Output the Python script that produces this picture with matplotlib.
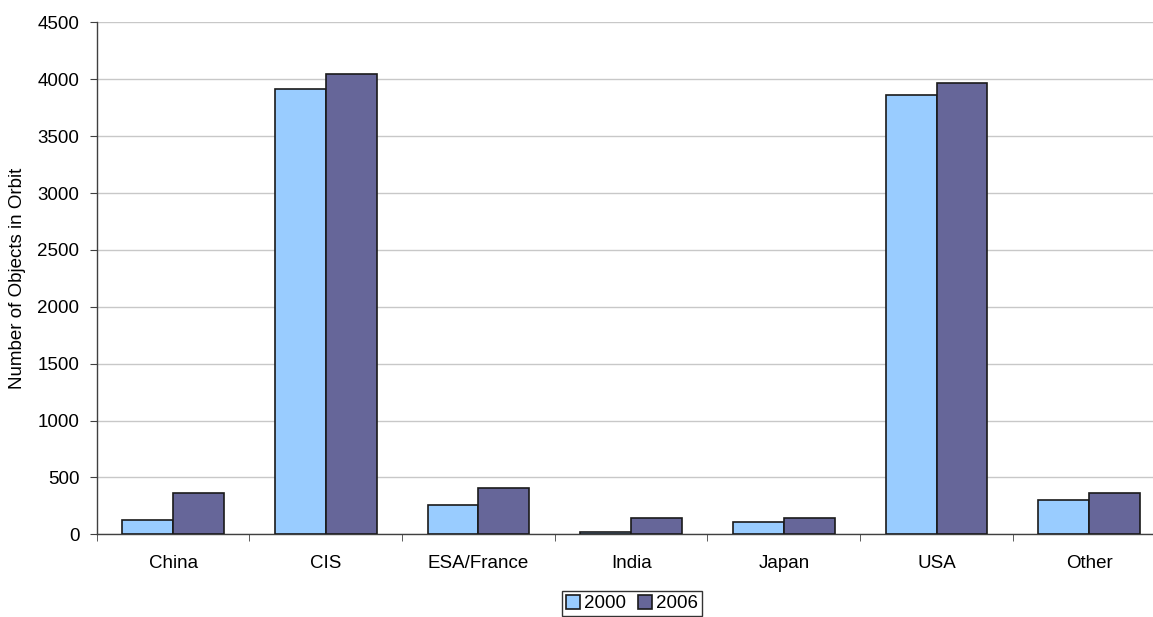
import matplotlib.pyplot as plt
import numpy as np

plt.rcParams['font.family'] = ['Liberation Sans', 'DejaVu Sans']

countries = ['China', 'CIS', 'ESA/France', 'India', 'Japan', 'USA', 'Other']
objects_2000 = [126, 3915, 258, 23, 111, 3862, 305]
objects_2006 = [360, 4045, 410, 141, 143, 3970, 366]

fig = plt.figure(figsize=(11.53, 6.17), dpi=100)
ax = fig.add_axes([0.0839, 0.134, 1.0109 - 0.0839, 0.9637 - 0.134])

x = np.arange(len(countries))
w = 1 / 3
ax.bar(x - w / 2, objects_2000, w, color='#99CCFF', edgecolor='#1a1a1a', linewidth=1.2, label='2000', zorder=3)
ax.bar(x + w / 2, objects_2006, w, color='#666699', edgecolor='#1a1a1a', linewidth=1.2, label='2006', zorder=3)

ax.set_xlim(-0.5, len(countries) - 0.5)
ax.set_ylim(0, 4500)
ax.set_yticks(np.arange(0, 4501, 500))
ax.yaxis.grid(True, color='#C8C8C8', linewidth=1)
ax.set_axisbelow(True)

ax.set_xticks(x)
ax.set_xticklabels(countries, fontsize=13.5)
ax.set_xticks(np.arange(-0.5, len(countries)), minor=True)
ax.tick_params(axis='x', which='major', length=0, pad=15)
ax.tick_params(axis='x', which='minor', length=5, direction='out', color='#404040')
ax.tick_params(axis='y', length=5, direction='out', labelsize=13.5, pad=7.5, color='#404040')

for s in ['top', 'right']:
    ax.spines[s].set_visible(False)
for s in ['left', 'bottom']:
    ax.spines[s].set_color('#404040')
    ax.spines[s].set_linewidth(1)

fig.text(18 / 1153, 0.5 * (0.134 + 0.9637), 'Number of Objects in Orbit', rotation=90,
         ha='center', va='center', fontsize=13.5)

leg = fig.legend(loc='lower center', bbox_to_anchor=(632 / 1153, 0.0), ncol=2,
                 fontsize=13.5, frameon=True, fancybox=False, edgecolor='black',
                 handlelength=0.75, handleheight=0.75, handletextpad=0.25,
                 columnspacing=0.6, borderpad=0.2, borderaxespad=0.05)
leg.get_frame().set_linewidth(1)

fig.savefig('out.png', dpi=100)
